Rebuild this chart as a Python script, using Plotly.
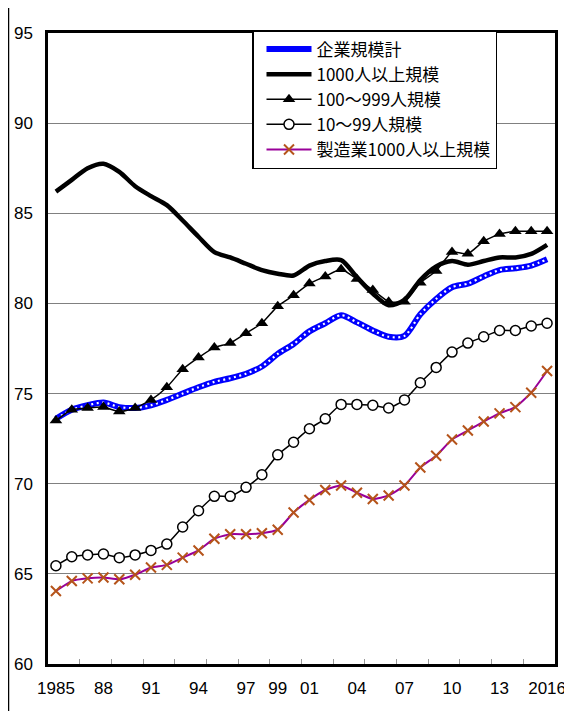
import plotly.graph_objects as go

years = list(range(1985, 2017))

series_names = ["企業規模計", "1000人以上規模", "100～999人規模", "10～99人規模", "製造業1000人以上規模"]

total = [73.6, 74.1, 74.35, 74.5, 74.25, 74.2, 74.35, 74.65, 75.0, 75.35, 75.65, 75.85, 76.1, 76.5, 77.2, 77.75,
         78.45, 78.9, 79.35, 78.95, 78.5, 78.15, 78.2, 79.4, 80.25, 80.9, 81.1, 81.5, 81.85, 81.95, 82.1, 82.45]
large = [86.2, 86.85, 87.5, 87.75, 87.3, 86.5, 85.95, 85.45, 84.6, 83.7, 82.85, 82.55, 82.2, 81.85, 81.65, 81.55,
         82.1, 82.35, 82.4, 81.45, 80.55, 79.9, 80.2, 81.3, 82.05, 82.35, 82.15, 82.35, 82.55, 82.55, 82.75, 83.25]
medium = [73.5, 74.1, 74.2, 74.25, 74.0, 74.2, 74.65, 75.35, 76.35, 77.0, 77.55, 77.8, 78.35, 78.9, 79.85, 80.45,
          81.1, 81.5, 81.9, 81.35, 80.75, 80.1, 80.1, 81.15, 81.8, 82.85, 82.75, 83.45, 83.85, 84.0, 84.0, 84.0]
small = [65.45, 65.95, 66.05, 66.1, 65.9, 66.05, 66.3, 66.65, 67.6, 68.5, 69.3, 69.3, 69.8, 70.5, 71.6, 72.3,
         73.05, 73.6, 74.4, 74.4, 74.35, 74.2, 74.65, 75.6, 76.45, 77.3, 77.8, 78.15, 78.5, 78.5, 78.75, 78.9]
manuf = [64.05, 64.6, 64.75, 64.8, 64.7, 64.95, 65.35, 65.5, 65.9, 66.3, 66.95, 67.2, 67.2, 67.25, 67.45, 68.4,
         69.1, 69.65, 69.9, 69.5, 69.15, 69.35, 69.9, 70.9, 71.55, 72.45, 72.95, 73.45, 73.9, 74.25, 75.05, 76.25]

x_tick_years = [1985, 1988, 1991, 1994, 1997, 1999, 2001, 2004, 2007, 2010, 2013, 2016]
x_tick_text = ["1985", "88", "91", "94", "97", "99", "01", "04", "07", "10", "13", "2016"]
x_minor_ticks = [1986.5 + 2 * i for i in range(15)]
y_ticks = [60, 65, 70, 75, 80, 85, 90, 95]

fig = go.Figure()

fig.add_trace(go.Scatter(x=years, y=total, name=series_names[0], mode="lines",
                         line=dict(color="#0000FF", width=6, shape="spline", smoothing=0.8)))
fig.add_trace(go.Scatter(x=years, y=total, name=series_names[0], mode="lines", showlegend=False,
                         hoverinfo="skip",
                         line=dict(color="#FFFFFF", width=2.2, dash="2px,3.5px", shape="spline", smoothing=0.8)))
fig.add_trace(go.Scatter(x=years, y=large, name=series_names[1], mode="lines",
                         line=dict(color="#000000", width=4.5, shape="spline", smoothing=0.8)))
fig.add_trace(go.Scatter(x=years, y=medium, name=series_names[2], mode="lines+markers",
                         line=dict(color="#000000", width=1.5, shape="spline", smoothing=0.5),
                         marker=dict(symbol="triangle-up", size=11, color="#000000")))
fig.add_trace(go.Scatter(x=years, y=small, name=series_names[3], mode="lines+markers",
                         line=dict(color="#000000", width=1.5, shape="spline", smoothing=0.5),
                         marker=dict(symbol="circle", size=10, color="#FFFFFF",
                                     line=dict(color="#000000", width=1.5))))
fig.add_trace(go.Scatter(x=years, y=manuf, name=series_names[4], mode="lines+markers",
                         line=dict(color="#990099", width=2, shape="spline", smoothing=0.5),
                         marker=dict(symbol="x-thin", size=10, color="#B5541A",
                                     line=dict(color="#B5541A", width=2))))

# page body adds an 8px offset; compensate so absolute pixel positions match
OFF = 8
W, H = 572 - OFF, 711 - OFF
L, R, T, B = 48 - OFF, 17, 33 - OFF, 47
pw, ph = W - L - R, H - T - B

def px_x(p):
    return (p - OFF - L) / pw

def px_y(p):
    return (H - B - (p - OFF)) / ph

fig.add_shape(type="rect", xref="paper", yref="paper",
              x0=px_x(8.5), x1=px_x(600), y0=px_y(760), y1=px_y(6.5),
              line=dict(color="#000000", width=1.5), layer="below")

fig.update_layout(
    width=W, height=H,
    margin=dict(l=L, r=R, t=T, b=B, pad=0, autoexpand=False),
    paper_bgcolor="#FFFFFF", plot_bgcolor="#FFFFFF",
    font=dict(family="Liberation Sans, Arial, sans-serif", size=17, color="#000000"),
    showlegend=True,
    legend=dict(x=px_x(252), y=px_y(30), xanchor="left", yanchor="top",
                bgcolor="#FFFFFF", bordercolor="#000000", borderwidth=1.5,
                font=dict(family="Noto Sans CJK JP, sans-serif", size=17, color="#000000"),
                itemwidth=45, tracegroupgap=0, indentation=8),
    xaxis=dict(range=[1984.5, 2016.5], tickmode="array", tickvals=x_tick_years, ticktext=x_tick_text,
               ticks="", showgrid=False, zeroline=False, automargin=False,
               showline=True, linecolor="#000000", linewidth=2.5, mirror=True,
               ticklabelstandoff=7,
               minor=dict(tickmode="array", tickvals=x_minor_ticks, ticks="inside", ticklen=5,
                          tickwidth=1, tickcolor="#999999", showgrid=False)),
    yaxis=dict(range=[60, 95], tickmode="array", tickvals=y_ticks, ticks="",
               showgrid=True, gridcolor="#808080", gridwidth=1, zeroline=False, automargin=False,
               showline=True, linecolor="#000000", linewidth=2.5, mirror=True,
               ticklabelstandoff=9),
)

fig.write_html("out.html")
